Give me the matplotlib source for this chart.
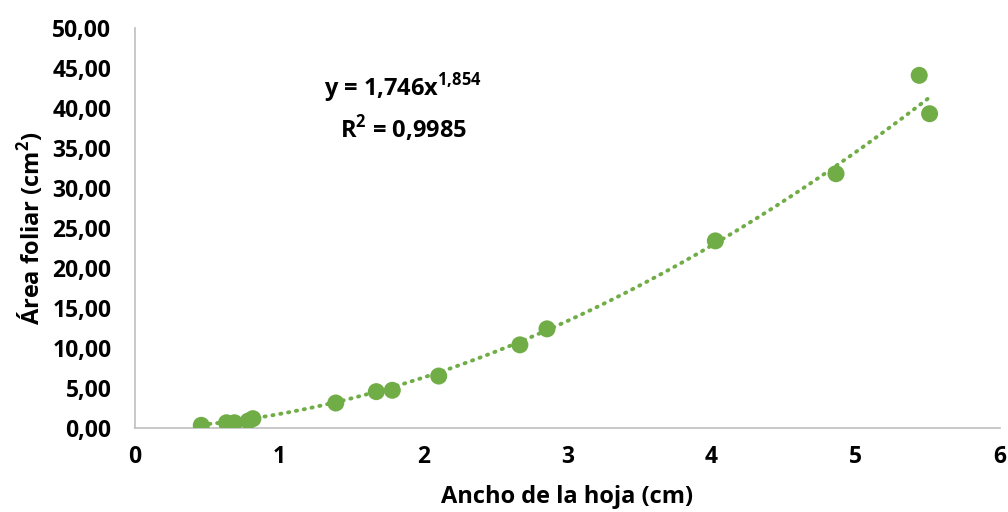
import numpy as np
import matplotlib
matplotlib.use("Agg")
import matplotlib.pyplot as plt
from matplotlib.ticker import FuncFormatter

# Leaf width (cm) vs leaf area (cm2)
ancho = [0.46, 0.635, 0.69, 0.786, 0.818, 1.393, 1.674, 1.785, 2.107,
         2.67, 2.858, 4.026, 4.863, 5.44, 5.512]
area = [0.34, 0.66, 0.66, 0.88, 1.17, 3.13, 4.55, 4.72, 6.5,
        10.4, 12.4, 23.4, 31.8, 44.1, 39.3]

# power fit y = a * x^b
coef_a = 1.746
coef_b = 1.854
r2 = 0.9985

verde = "#70AD47"
plt.rcParams["font.family"] = ["Open Sans", "DejaVu Sans"]
plt.rcParams["font.weight"] = "bold"
plt.rcParams["mathtext.fontset"] = "custom"
plt.rcParams["mathtext.rm"] = "Open Sans:bold"
plt.rcParams["mathtext.bf"] = "Open Sans:bold"

fig = plt.figure(figsize=(10.08, 5.12), dpi=100)
ax = fig.add_axes([0.1339, 0.164, 0.8581, 0.781])

xs = np.linspace(min(ancho), max(ancho), 200)
ax.plot(xs, coef_a * xs ** coef_b, color=verde, lw=2.8,
        linestyle=(0, (0.3, 1.75)), dash_capstyle="round", zorder=2)
ax.scatter(ancho, area, s=150, color=verde, edgecolors="none", zorder=3)

ax.set_xlim(0, 6)
ax.set_ylim(0, 50)
ax.set_xticks(range(0, 7))
ax.set_yticks(np.arange(0, 51, 5))
ax.yaxis.set_major_formatter(FuncFormatter(lambda v, p: f"{v:.2f}".replace(".", ",")))

for s in ["top", "right"]:
    ax.spines[s].set_visible(False)
for s in ["left", "bottom"]:
    ax.spines[s].set_color("#BFBFBF")
    ax.spines[s].set_linewidth(1.2)
ax.tick_params(length=0, labelsize=16.5)
ax.tick_params(axis="y", pad=17)
ax.tick_params(axis="x", pad=12)
for lab in ax.get_xticklabels() + ax.get_yticklabels():
    lab.set_fontweight("bold")

ax.set_xlabel("Ancho de la hoja (cm)", fontsize=17, fontweight="bold", labelpad=12)
ax.set_ylabel("Área foliar (cm$^{2}$)", fontsize=17, fontweight="bold", labelpad=4)

eq = (f"y = {coef_a:.3f}".replace(".", ",") + "x$^{" +
      f"{coef_b:.3f}".replace(".", "{,}") + "}$")
ax.text(1.86, 42.5, eq, fontsize=17, fontweight="bold", ha="center", va="center")
ax.text(1.86, 37.5, "R$^{2}$ = " + f"{r2:.4f}".replace(".", ","), fontsize=17,
        fontweight="bold", ha="center", va="center")

fig.savefig("out.png", dpi=100)
